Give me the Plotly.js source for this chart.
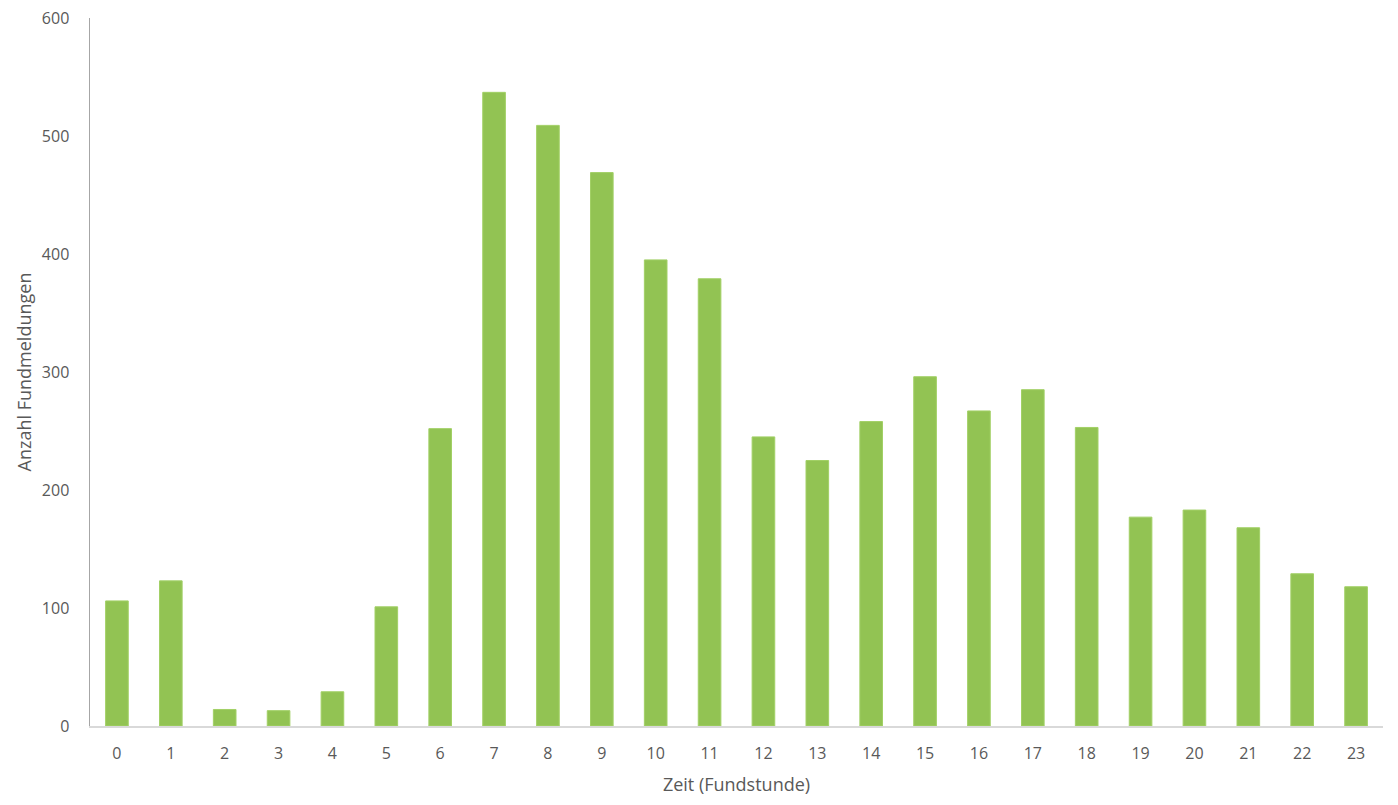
<!DOCTYPE html>
<html>
<head>
<meta charset="utf-8">
<script src="https://cdn.plot.ly/plotly-3.0.1.min.js"></script>
<style>
  html, body { margin: 0; padding: 0; background: #fff; }
  #chart { width: 1398px; height: 805px; }
</style>
</head>
<body>
<div id="chart"></div>
<script>
// Fundmeldungen je Stunde
var stunden = ['0','1','2','3','4','5','6','7','8','9','10','11','12','13','14','15','16','17','18','19','20','21','22','23'];
var anzahl = [106, 123, 14, 13, 29, 101, 252, 537, 509, 469, 395, 379, 245, 225, 258, 296, 267, 285, 253, 177, 183, 168, 129, 118];
var yTicks = [0, 100, 200, 300, 400, 500, 600];

var data = [{
    x: stunden,
    y: anzahl,
    type: 'bar',
    marker: { color: '#92c353', line: { color: '#a2d066', width: 1 } },
    hoverinfo: 'x+y'
}];

var layout = {
    width: 1398,
    height: 805,
    margin: { l: 90, r: 15, t: 18, b: 79 },
    paper_bgcolor: '#ffffff',
    plot_bgcolor: '#ffffff',
    bargap: 0.58,
    showlegend: false,
    font: { family: 'Open Sans, Noto Sans, sans-serif', size: 16, color: '#595959' },
    xaxis: {
        type: 'category',
        showline: true,
        linecolor: '#d9d9d9',
        linewidth: 1.5,
        showgrid: false,
        ticks: '',
        ticklabelstandoff: 12,
        tickfont: { size: 16, color: '#595959' },
        title: { text: 'Zeit (Fundstunde)', font: { size: 18, color: '#595959' }, standoff: 15 },
        automargin: false
    },
    yaxis: {
        range: [0, 600],
        tickvals: yTicks,
        showline: true,
        linecolor: '#a6a6a6',
        linewidth: 1.5,
        showgrid: false,
        zeroline: false,
        ticks: '',
        ticklabelstandoff: 16,
        tickfont: { size: 16, color: '#595959' },
        title: { text: 'Anzahl Fundmeldungen', font: { size: 18, color: '#595959' }, standoff: 5 },
        automargin: false
    }
};

Plotly.newPlot('chart', data, layout, { displayModeBar: false, staticPlot: true });
</script>
</body>
</html>
